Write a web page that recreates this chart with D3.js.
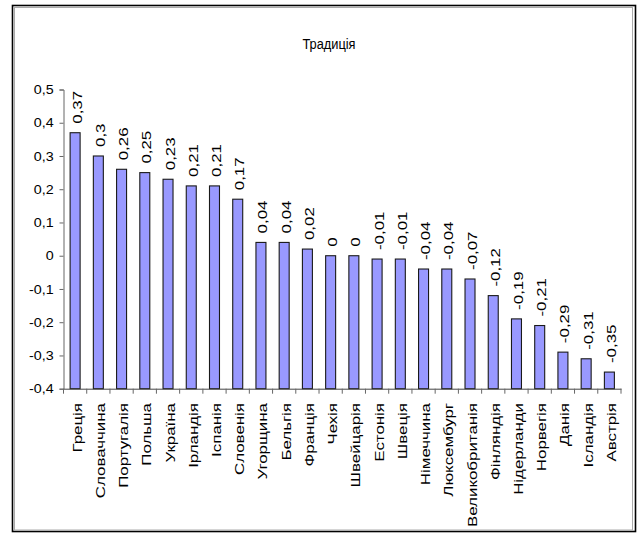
<!DOCTYPE html>
<html><head><meta charset="utf-8">
<script src="https://cdn.jsdelivr.net/npm/d3@7"></script>
<style>
html,body{margin:0;padding:0;background:#fff;}
svg{display:block;font-family:"Liberation Sans",Arial,sans-serif;}
</style></head>
<body>
<svg id="chart" width="640" height="533"></svg>
<script>
const title = "Традиція";
const categories = ["Греція","Словаччина","Португалія","Польша","Україна","Ірландія","Іспанія","Словенія","Угорщина","Бельгія","Франція","Чехія","Швейцарія","Естонія","Швеція","Німеччина","Люксембург","Великобританія","Фінляндія","Нідерланди","Норвегія","Данія","Ісландія","Австрія"];
const values = [0.37,0.3,0.26,0.25,0.23,0.21,0.21,0.17,0.04,0.04,0.02,0,0,-0.01,-0.01,-0.04,-0.04,-0.07,-0.12,-0.19,-0.21,-0.29,-0.31,-0.35];
const yTicks = [0.5,0.4,0.3,0.2,0.1,0,-0.1,-0.2,-0.3,-0.4];
const yDomain = [-0.4, 0.5];

const fmt = v => String(+v.toFixed(2)).replace(".", ",");
const svg = d3.select("#chart");

// frame
svg.append("rect").attr("x",12.5).attr("y",5.5).attr("width",623).attr("height",526)
  .attr("fill","#fff").attr("stroke","#000").attr("stroke-width",1.6);
svg.append("rect").attr("x",14.5).attr("y",7.5).attr("width",618).attr("height",522.5)
  .attr("fill","none").attr("stroke","#aaa").attr("stroke-width",1);

const x = d3.scaleBand().domain(categories).range([63.5, 621])
  .paddingInner(0.57).paddingOuter(0.285);
const y = d3.scaleLinear().domain(yDomain).range([388.7, 89.5]);

// title
svg.append("text").attr("transform","translate(329,49) scale(0.95,1.12)").attr("text-anchor","middle")
  .attr("font-size",13.5).attr("fill","#000").text(title);

// bars
svg.append("g").selectAll("rect").data(values).join("rect")
  .attr("x",(d,i)=>x(categories[i]))
  .attr("y",d=>y(d))
  .attr("width",x.bandwidth())
  .attr("height",d=>y(yDomain[0])-y(d))
  .attr("fill","#9999ff").attr("stroke","#1a1a1a").attr("stroke-width",1.1);

// y axis
const yAxis = d3.axisLeft(y).tickValues(yTicks).tickSize(4).tickPadding(6)
  .tickFormat(fmt);
const gy = svg.append("g").attr("transform","translate(63.5,0)").call(yAxis);
gy.select(".domain").attr("stroke","#666");
gy.selectAll(".tick line").attr("stroke","#666");
gy.selectAll(".tick text").attr("font-size",13).attr("fill","#000")
  .attr("x",-9).attr("transform","scale(1.1,1)")
  .attr("font-family","Liberation Sans, Arial, sans-serif");

// x axis (at bottom, crossing at -0.4)
const xAxis = d3.axisBottom(x).tickSize(0).tickFormat("");
const gx = svg.append("g").attr("transform",`translate(0,${y(yDomain[0])})`).call(xAxis);
gx.select(".domain").attr("stroke","#444");
const step = x.step();
const bounds = d3.range(categories.length+1).map(i => 63.5 + i*step);
gx.selectAll(".sep").data(bounds).join("line").attr("class","sep")
  .attr("x1",d=>d).attr("x2",d=>d).attr("y1",0).attr("y2",5).attr("stroke","#666");

// category labels
svg.append("g").selectAll("text").data(categories).join("text")
  .attr("transform",d=>`translate(${x(d)+x.bandwidth()/2+6.5},403) rotate(-90) scale(1.3,1)`)
  .attr("text-anchor","end").attr("font-size",13).attr("fill","#000").text(d=>d);

// value labels
svg.append("g").selectAll("text").data(values).join("text")
  .attr("transform",(d,i)=>`translate(${x(categories[i])+x.bandwidth()/2+6.5},${y(d)-9}) rotate(-90) scale(1.3,1)`)
  .attr("text-anchor","start").attr("font-size",13).attr("fill","#000").text(d=>fmt(d));
</script>
</body></html>
